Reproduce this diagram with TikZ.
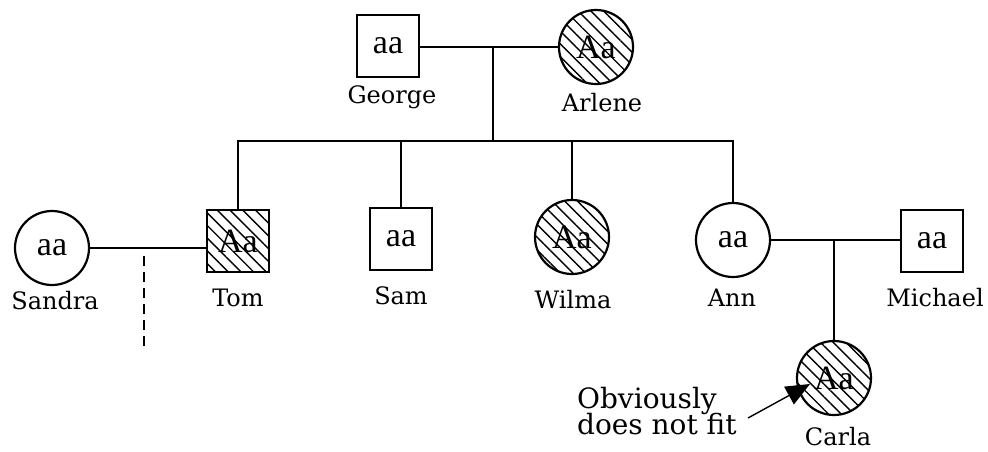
\documentclass[tikz,border=0pt]{standalone}
\usepackage{fontspec}
\setmainfont{DejaVu Serif}
\newfontfamily\geno{Liberation Serif}
\usetikzlibrary{patterns.meta,arrows.meta}
\begin{document}
\begin{tikzpicture}[x=1pt,y=-1pt,
  line width=2.2pt,
  male/.style={draw,minimum size=62pt,inner sep=0pt,font=\geno\fontsize{34}{34}\selectfont},
  female/.style={draw,circle,minimum size=74pt,inner sep=0pt,font=\geno\fontsize{34}{34}\selectfont},
  affected/.style={pattern={Lines[angle=-45,distance=9pt,line width=1.4pt]}},
  lbl/.style={font=\fontsize{24}{24}\selectfont,inner sep=0pt},
  link/.style={line width=2.2pt}]
\useasboundingbox (0,0) rectangle (988,451);

% first generation
\node[male] (george) at (388,46) {aa};
\node[female,affected] (arlene) at (596,47) {Aa};
\node[lbl] (georgelbl) at (392,97) {George};
\node[lbl] (arlenelbl) at (602,103) {Arlene};

% second generation
\node[female] (sandra) at (52,248) {aa};
\node[male,affected] (tom) at (238,241) {Aa};
\node[male] (sam) at (401,239) {aa};
\node[female,affected] (wilma) at (572,237) {Aa};
\node[female] (ann) at (733,240) {aa};
\node[male] (michael) at (932,241) {aa};
\node[lbl] (sandralbl) at (55,301) {Sandra};
\node[lbl] (tomlbl) at (238,298) {Tom};
\node[lbl] (samlbl) at (401,296) {Sam};
\node[lbl] (wilmalbl) at (573,300) {Wilma};
\node[lbl] (annlbl) at (732,298) {Ann};
\node[lbl] (michaellbl) at (935,298) {Michael};

% third generation
\node[female,affected] (carla) at (834,378) {Aa};
\node[lbl] (carlalbl) at (838,437) {Carla};

% junction points
\coordinate (gm) at (493,47);
\coordinate (sib) at (493,141);
\coordinate (st) at (144,256);
\coordinate (stend) at (144,350);
\coordinate (am) at (834,240);

% marriages (horizontal bars)
\draw[link] (george.east |- gm) -- (arlene.west |- gm);
\draw[link] (sandra.east) -- (sandra.east -| tom.west);
\draw[link] (ann.east) -- (ann.east -| michael.west);

% descent lines
\draw[link] (gm) -- (sib);
\draw[link] (tom.north) |- (sib) -| (ann.north);
\draw[link] (sam.north) -- (sam.north |- sib);
\draw[link] (wilma.north) -- (wilma.north |- sib);
\draw[link] (am) -- (carla.north);
\draw[link,dash pattern=on 10pt off 6pt] (st) -- (stend);

% annotation
\node[font=\fontsize{28}{28}\selectfont,align=left,inner sep=0pt,anchor=west] (note) at (576,411)
  {Obviously\\[-2pt]does not fit};
\coordinate (tail) at (748,418);
\coordinate (tip) at (810,384);
\draw[line width=1.4pt,-{Triangle[length=24pt,width=20pt]}] (tail) -- (tip);
\end{tikzpicture}
\end{document}
